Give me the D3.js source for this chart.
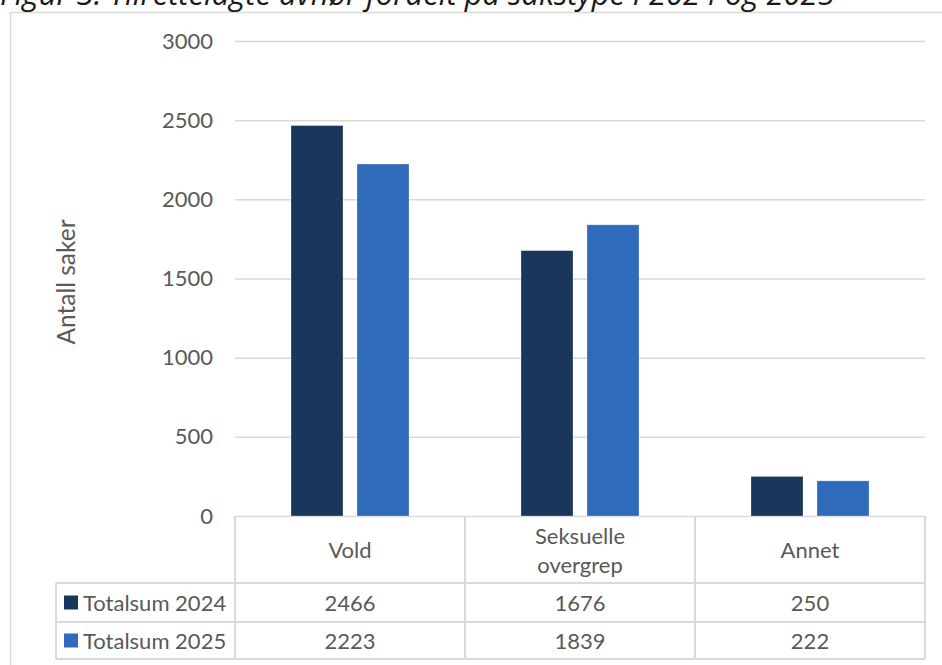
<!DOCTYPE html>
<html>
<head>
<meta charset="utf-8">
<script src="https://cdn.jsdelivr.net/npm/d3@7"></script>
<style>
  html, body { margin: 0; padding: 0; background: #fff; }
  svg { display: block; }
</style>
</head>
<body>
<svg id="chart" width="942" height="665"></svg>
<script>
// ---- Data ----
const titleText = "Figur 3: Tilrettelagte avhør fordelt på sakstype i 2024 og 2025";
const yAxisLabel = "Antall saker";
const categories = ["Vold", "Seksuelle overgrep", "Annet"];
const categoryLines = [["Vold"], ["Seksuelle", "overgrep"], ["Annet"]];
const seriesNames = ["Totalsum 2024", "Totalsum 2025"];
const values2024 = [2466, 1676, 250];
const values2025 = [2223, 1839, 222];
const yTicks = [0, 500, 1000, 1500, 2000, 2500, 3000];
const seriesColors = ["#1b365d", "#306bbb"];

const seriesValues = [values2024, values2025];

// ---- Layout ----
const svg = d3.select("#chart");
const font = "Lato, 'Open Sans', sans-serif";
const textColor = "#595959";
const lineColor = "#d9d9d9";

const plotLeft = 235, plotRight = 925, plotTop = 41, plotBottom = 516;
const rowCat = [516, 583], row1 = [583, 622], row2 = [622, 659];
const legendLeft = 56;

// Outer frame
svg.append("rect").attr("x", 10.5).attr("y", 12.5).attr("width", 1000).attr("height", 1000)
  .attr("fill", "none").attr("stroke", lineColor).attr("stroke-width", 1.5);

// Title (partially cut off at top, as in the reference)
const title = svg.append("text").attr("x", 0).attr("y", 5)
  .attr("font-family", "'Open Sans', sans-serif").attr("font-style", "italic")
  .attr("font-size", 20).attr("fill", "#1a1a1a").text(titleText);
const tw = title.node().getComputedTextLength();
title.attr("font-size", 20 * 835 / tw);

// Scales
const y = d3.scaleLinear().domain([0, 3000]).range([plotBottom, plotTop]);
const x0 = d3.scaleBand().domain(categories).range([plotLeft, plotRight]).padding(0);
const bw = x0.bandwidth();
const x1 = d3.scaleBand().domain(seriesNames).range([bw / 2 - 59, bw / 2 + 59]).paddingInner(0.212).paddingOuter(0);

// Gridlines + tick labels
const yAxis = d3.axisLeft(y).tickValues(yTicks).tickSize(-(plotRight - plotLeft)).tickPadding(22).tickFormat(d3.format("d"));
const gAxis = svg.append("g").attr("transform", `translate(${plotLeft},0)`).call(yAxis);
gAxis.select(".domain").remove();
gAxis.selectAll(".tick line").attr("stroke", lineColor).attr("stroke-width", 1.5);
gAxis.selectAll(".tick text").attr("font-family", font).attr("font-size", 22).attr("fill", textColor);

// Bars
const groups = svg.append("g").selectAll("g").data(categories).join("g")
  .attr("transform", d => `translate(${x0(d)},0)`);
groups.selectAll("rect").data((d, i) => seriesNames.map((s, j) => ({ s, v: seriesValues[j][i], j })))
  .join("rect")
  .attr("x", d => x1(d.s))
  .attr("width", x1.bandwidth())
  .attr("y", d => y(d.v))
  .attr("height", d => y(0) - y(d.v))
  .attr("fill", d => seriesColors[d.j])
  .attr("stroke", "#ffffff").attr("stroke-opacity", 0.35).attr("stroke-width", 0.75);

// Y axis label
svg.append("text").attr("transform", "translate(65,282) rotate(-90)")
  .attr("text-anchor", "middle").attr("dominant-baseline", "central")
  .attr("font-family", font).attr("font-size", 24.5).attr("fill", textColor).text(yAxisLabel);

// Data table
const tbl = svg.append("g").attr("stroke", lineColor).attr("stroke-width", 2).attr("fill", "none");
const vx = [plotLeft, ...categories.map(c => x0(c) + bw)];
vx.forEach(xx => tbl.append("line").attr("x1", xx).attr("x2", xx).attr("y1", rowCat[0]).attr("y2", row2[1]));
tbl.append("line").attr("x1", legendLeft).attr("x2", legendLeft).attr("y1", row1[0]).attr("y2", row2[1]);
[row1[0], row2[0], row2[1]].forEach(yy => tbl.append("line").attr("x1", legendLeft).attr("x2", plotRight).attr("y1", yy).attr("y2", yy));

// Category labels
categories.forEach((c, i) => {
  const lines = categoryLines[i];
  const cy = (rowCat[0] + rowCat[1]) / 2;
  const lh = 29;
  lines.forEach((ln, k) => {
    svg.append("text").attr("x", x0(c) + bw / 2).attr("y", cy + (k - (lines.length - 1) / 2) * lh)
      .attr("text-anchor", "middle").attr("dominant-baseline", "central")
      .attr("font-family", font).attr("font-size", 22).attr("fill", textColor).text(ln);
  });
});

// Value rows + legend
const rows = [row1, row2];
seriesNames.forEach((s, j) => {
  const cy = (rows[j][0] + rows[j][1]) / 2;
  svg.append("rect").attr("x", 64).attr("y", cy - 7).attr("width", 14).attr("height", 14).attr("fill", seriesColors[j]);
  svg.append("text").attr("x", 83).attr("y", cy).attr("dominant-baseline", "central")
    .attr("font-family", font).attr("font-size", 22).attr("fill", textColor).text(s);
  categories.forEach((c, i) => {
    svg.append("text").attr("x", x0(c) + bw / 2).attr("y", cy)
      .attr("text-anchor", "middle").attr("dominant-baseline", "central")
      .attr("font-family", font).attr("font-size", 22).attr("fill", textColor).text(seriesValues[j][i]);
  });
});
</script>
</body>
</html>
